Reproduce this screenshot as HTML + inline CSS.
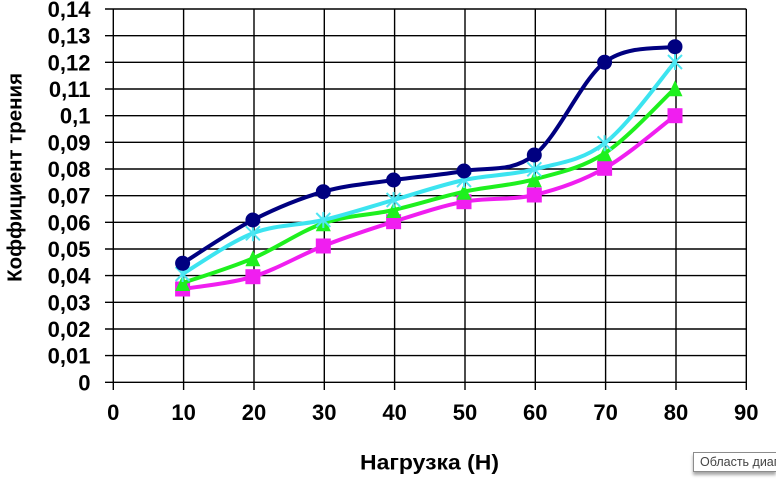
<!DOCTYPE html>
<html>
<head>
<meta charset="utf-8">
<style>
  html, body { margin:0; padding:0; background:#fff; }
  body { width:776px; height:481px; overflow:hidden; position:relative; }
  svg { display:block; }
  .tick { font-family:"Liberation Sans", Arial, sans-serif; font-weight:bold; font-size:22px; fill:#000; }
  .title { font-family:"Liberation Sans", Arial, sans-serif; font-weight:bold; fill:#000; }
  .tip { position:absolute; left:693px; top:452px; width:76px; height:18px; background:#fff;
         border:1px solid #8c8c8c; border-right:none; box-shadow:0 3px 3px rgba(0,0,0,0.35);
         font-family:"Liberation Sans","DejaVu Sans",sans-serif; font-size:12.5px; color:#444;
         line-height:18px; padding-left:6px; white-space:nowrap; overflow:hidden; }
</style>
</head>
<body>
<svg width="776" height="481" viewBox="0 0 776 481" xmlns="http://www.w3.org/2000/svg">
  <rect x="0" y="0" width="776" height="481" fill="#fff"/>
  <g stroke="#000" stroke-width="1.4" fill="none">
    <line x1="105" y1="382.3" x2="746.3" y2="382.3"/>
    <line x1="105" y1="355.6" x2="746.3" y2="355.6"/>
    <line x1="105" y1="329.0" x2="746.3" y2="329.0"/>
    <line x1="105" y1="302.3" x2="746.3" y2="302.3"/>
    <line x1="105" y1="275.6" x2="746.3" y2="275.6"/>
    <line x1="105" y1="249.0" x2="746.3" y2="249.0"/>
    <line x1="105" y1="222.3" x2="746.3" y2="222.3"/>
    <line x1="105" y1="195.7" x2="746.3" y2="195.7"/>
    <line x1="105" y1="169.0" x2="746.3" y2="169.0"/>
    <line x1="105" y1="142.3" x2="746.3" y2="142.3"/>
    <line x1="105" y1="115.7" x2="746.3" y2="115.7"/>
    <line x1="105" y1="89.0" x2="746.3" y2="89.0"/>
    <line x1="105" y1="62.3" x2="746.3" y2="62.3"/>
    <line x1="105" y1="35.7" x2="746.3" y2="35.7"/>
    <line x1="105" y1="9.0" x2="746.3" y2="9.0"/>
    <line x1="113.3" y1="9" x2="113.3" y2="390"/>
    <line x1="183.6" y1="9" x2="183.6" y2="390"/>
    <line x1="254.0" y1="9" x2="254.0" y2="390"/>
    <line x1="324.3" y1="9" x2="324.3" y2="390"/>
    <line x1="394.6" y1="9" x2="394.6" y2="390"/>
    <line x1="465.0" y1="9" x2="465.0" y2="390"/>
    <line x1="535.3" y1="9" x2="535.3" y2="390"/>
    <line x1="605.6" y1="9" x2="605.6" y2="390"/>
    <line x1="676.0" y1="9" x2="676.0" y2="390"/>
    <line x1="746.3" y1="9" x2="746.3" y2="390"/>
  </g>

  <g class="tick" text-anchor="end">
    <text x="90.5" y="390.3">0</text>
    <text x="90.5" y="363.6">0,01</text>
    <text x="90.5" y="337.0">0,02</text>
    <text x="90.5" y="310.3">0,03</text>
    <text x="90.5" y="283.6">0,04</text>
    <text x="90.5" y="257.0">0,05</text>
    <text x="90.5" y="230.3">0,06</text>
    <text x="90.5" y="203.7">0,07</text>
    <text x="90.5" y="177.0">0,08</text>
    <text x="90.5" y="150.3">0,09</text>
    <text x="90.5" y="123.7">0,1</text>
    <text x="90.5" y="97.0">0,11</text>
    <text x="90.5" y="70.3">0,12</text>
    <text x="90.5" y="43.7">0,13</text>
    <text x="90.5" y="17.0">0,14</text>
  </g>

  <g class="tick" text-anchor="middle">
    <text x="113.3" y="420">0</text>
    <text x="183.6" y="420">10</text>
    <text x="254.0" y="420">20</text>
    <text x="324.3" y="420">30</text>
    <text x="394.6" y="420">40</text>
    <text x="465.0" y="420">50</text>
    <text x="535.3" y="420">60</text>
    <text x="605.6" y="420">70</text>
    <text x="676.0" y="420">80</text>
    <text x="746.3" y="420">90</text>
  </g>

  <text class="title" x="360" y="469.3" font-size="21" textLength="139" lengthAdjust="spacingAndGlyphs">Нагрузка (Н)</text>
  <text class="title" font-size="20" text-anchor="middle" transform="translate(21.5,177.4) rotate(-90)" textLength="209" lengthAdjust="spacingAndGlyphs">Коффициент трения</text>

  <path d="M182.6,289 C194.3,287 229.5,283.9 252.9,276.7 C276.4,269.5 299.9,255.2 323.3,246 C346.8,236.8 370.2,229.1 393.6,221.7 C417.1,214.3 440.6,206.2 464,201.7 C487.5,197.3 510.9,200.6 534.3,195 C557.8,189.4 581.2,181.5 604.6,168.3 C628.1,155.1 663.3,124.5 675,115.7"
        fill="none" stroke="#F01EF0" stroke-width="4" stroke-linejoin="round" stroke-linecap="round"/>
  <g fill="#F01EF0">
    <rect x="175.1" y="281.5" width="15" height="15"/>
    <rect x="245.4" y="269.2" width="15" height="15"/>
    <rect x="315.8" y="238.5" width="15" height="15"/>
    <rect x="386.1" y="214.2" width="15" height="15"/>
    <rect x="456.5" y="194.2" width="15" height="15"/>
    <rect x="526.8" y="187.5" width="15" height="15"/>
    <rect x="597.1" y="160.8" width="15" height="15"/>
    <rect x="667.5" y="108.2" width="15" height="15"/>
  </g>

  <path d="M182.6,283 C194.3,278.9 229.5,268.3 252.9,258.3 C276.4,248.4 299.9,231.4 323.3,223.3 C346.8,215.3 370.2,215.3 393.6,210 C417.1,204.7 440.6,196.8 464,191.7 C487.5,186.6 510.9,185.7 534.3,179.3 C557.8,172.9 581.2,168.5 604.6,153.3 C628.1,138.1 663.3,99.1 675,88.3"
        fill="none" stroke="#1EF01E" stroke-width="4" stroke-linejoin="round" stroke-linecap="round"/>
  <g fill="#1EF01E">
    <polygon points="182.6,275 190.1,291 175.1,291"/>
    <polygon points="252.9,250.3 260.4,266.3 245.4,266.3"/>
    <polygon points="323.3,215.3 330.8,231.3 315.8,231.3"/>
    <polygon points="393.6,202 401.1,218 386.1,218"/>
    <polygon points="464,183.7 471.5,199.7 456.5,199.7"/>
    <polygon points="534.3,171.3 541.8,187.3 526.8,187.3"/>
    <polygon points="604.6,145.3 612.1,161.3 597.1,161.3"/>
    <polygon points="675,80.3 682.5,96.3 667.5,96.3"/>
  </g>

  <path d="M182.6,274 C194.3,267.2 229.5,242.3 252.9,233.3 C276.4,224.3 299.9,225.6 323.3,220 C346.8,214.5 370.2,206.7 393.6,200 C417.1,193.3 440.6,185.1 464,180 C487.5,174.9 510.9,175.4 534.3,169.3 C557.8,163.2 581.2,161.2 604.6,143.3 C628.1,125.4 663.3,75.6 675,62"
        fill="none" stroke="#3CE4F0" stroke-width="4" stroke-linejoin="round" stroke-linecap="round"/>
  <g stroke="#4FE6F2" stroke-width="2" fill="none">
    <path d="M175.6,267 L189.6,281 M175.6,281 L189.6,267 M182.6,266 L182.6,282"/>
    <path d="M245.9,226.3 L259.9,240.3 M245.9,240.3 L259.9,226.3 M252.9,225.3 L252.9,241.3"/>
    <path d="M316.3,213 L330.3,227 M316.3,227 L330.3,213 M323.3,212 L323.3,228"/>
    <path d="M386.6,193 L400.6,207 M386.6,207 L400.6,193 M393.6,192 L393.6,208"/>
    <path d="M457,173 L471,187 M457,187 L471,173 M464,172 L464,188"/>
    <path d="M527.3,162.3 L541.3,176.3 M527.3,176.3 L541.3,162.3 M534.3,161.3 L534.3,177.3"/>
    <path d="M597.6,136.3 L611.6,150.3 M597.6,150.3 L611.6,136.3 M604.6,135.3 L604.6,151.3"/>
    <path d="M668,55 L682,69 M668,69 L682,55 M675,54 L675,70"/>
  </g>

  <path d="M182.6,263.3 C194.3,256.1 229.5,231.9 252.9,220 C276.4,208.1 299.9,198.4 323.3,191.7 C346.8,185 370.2,183.5 393.6,180 C417.1,176.6 440.6,175.2 464,171 C487.5,166.8 510.9,173.1 534.3,155 C557.8,136.9 581.2,80.4 604.6,62.3 C628.1,44.3 663.3,49.3 675,46.7"
        fill="none" stroke="#000080" stroke-width="4" stroke-linejoin="round" stroke-linecap="round"/>
  <g fill="#000080">
    <circle cx="182.6" cy="263.3" r="7.5"/>
    <circle cx="252.9" cy="220" r="7.5"/>
    <circle cx="323.3" cy="191.7" r="7.5"/>
    <circle cx="393.6" cy="180" r="7.5"/>
    <circle cx="464" cy="171" r="7.5"/>
    <circle cx="534.3" cy="155" r="7.5"/>
    <circle cx="604.6" cy="62.3" r="7.5"/>
    <circle cx="675" cy="46.7" r="7.5"/>
  </g>
</svg>
<div class="tip">Область диаграммы</div>
</body>
</html>
